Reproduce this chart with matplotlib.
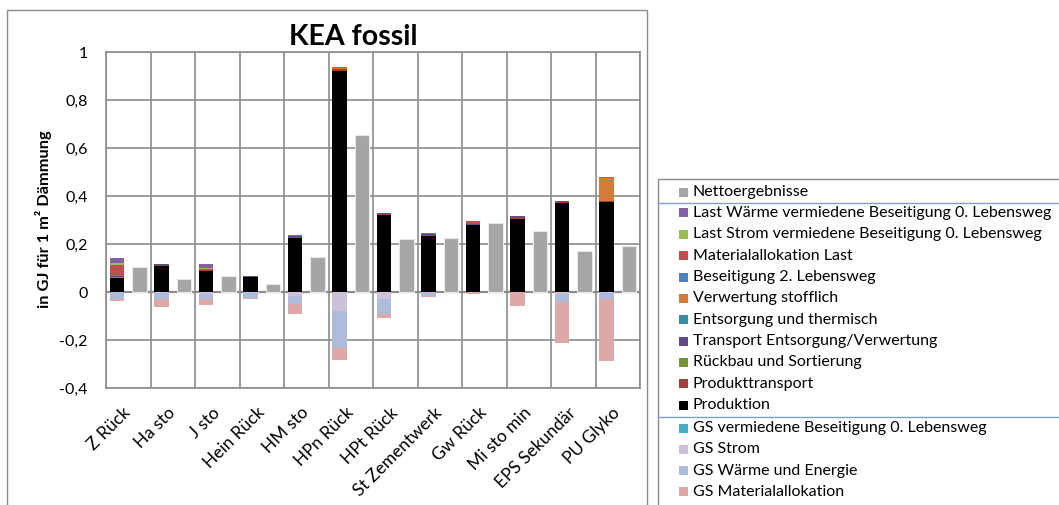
import numpy as np
import matplotlib
matplotlib.use('Agg')
import matplotlib.pyplot as plt
from matplotlib.patches import Rectangle
from matplotlib.lines import Line2D
from matplotlib.ticker import FuncFormatter

plt.rcParams['font.family'] = ['Lato', 'DejaVu Sans']

categories = ['Z Rück', 'Ha sto', 'J sto', 'Hein Rück', 'HM sto', 'HPn Rück',
              'HPt Rück', 'St Zementwerk', 'Gw Rück', 'Mi sto min', 'EPS Sekundär', 'PU Glyko']

# positive stack, bottom to top
produktion       = [0.058, 0.109, 0.086, 0.062, 0.226, 0.921, 0.319, 0.233, 0.280, 0.306, 0.371, 0.375]
produkttransport = [0.002, 0.003, 0.004, 0.002, 0.005, 0.006, 0.008, 0.005, 0.000, 0.005, 0.006, 0.003]
rueckbau         = [0.002, 0.000, 0.000, 0.000, 0.000, 0.000, 0.000, 0.000, 0.000, 0.000, 0.000, 0.000]
transport        = [0.003, 0.006, 0.000, 0.002, 0.003, 0.004, 0.004, 0.003, 0.005, 0.004, 0.004, 0.000]
entsorgung       = [0.004, 0.000, 0.000, 0.000, 0.000, 0.000, 0.000, 0.006, 0.000, 0.000, 0.000, 0.000]
verwertung       = [0.000, 0.000, 0.000, 0.000, 0.000, 0.004, 0.000, 0.000, 0.000, 0.000, 0.000, 0.097]
beseitigung      = [0.003, 0.000, 0.000, 0.000, 0.003, 0.004, 0.000, 0.000, 0.000, 0.000, 0.000, 0.003]
material_last    = [0.042, 0.000, 0.004, 0.000, 0.000, 0.000, 0.000, 0.000, 0.011, 0.000, 0.000, 0.000]
last_strom       = [0.008, 0.000, 0.008, 0.000, 0.000, 0.000, 0.000, 0.000, 0.000, 0.000, 0.000, 0.000]
last_waerme      = [0.018, 0.000, 0.015, 0.000, 0.000, 0.000, 0.000, 0.000, 0.000, 0.000, 0.000, 0.000]

# negative stack (credits), from zero downwards
gs_vermieden = [0.000, 0.000, 0.000, 0.000, 0.000, 0.000, 0.000, 0.000, 0.000, 0.000, 0.000, 0.000]
gs_strom     = [0.000, 0.006, 0.010, 0.003, 0.017, 0.079, 0.028, 0.000, 0.000, 0.002, 0.010, 0.004]
gs_waerme    = [0.030, 0.024, 0.021, 0.023, 0.032, 0.154, 0.062, 0.017, 0.002, 0.000, 0.032, 0.027]
gs_material  = [0.007, 0.032, 0.022, 0.005, 0.044, 0.052, 0.018, 0.004, 0.006, 0.058, 0.170, 0.258]

netto = [0.104, 0.054, 0.065, 0.035, 0.146, 0.653, 0.222, 0.226, 0.286, 0.254, 0.169, 0.190]

pos_series = [
    ('Produktion', produktion, '#000000'),
    ('Produkttransport', produkttransport, '#A0413D'),
    ('Rückbau und Sortierung', rueckbau, '#77933C'),
    ('Transport Entsorgung/Verwertung', transport, '#5F4A82'),
    ('Entsorgung und thermisch', entsorgung, '#3A8CA0'),
    ('Verwertung stofflich', verwertung, '#D27B3A'),
    ('Beseitigung 2. Lebensweg', beseitigung, '#4F81BD'),
    ('Materialallokation Last', material_last, '#C0504D'),
    ('Last Strom vermiedene Beseitigung 0. Lebensweg', last_strom, '#9BBB59'),
    ('Last Wärme vermiedene Beseitigung 0. Lebensweg', last_waerme, '#8064A2'),
]
neg_series = [
    ('GS vermiedene Beseitigung 0. Lebensweg', gs_vermieden, '#4BACC6'),
    ('GS Strom', gs_strom, '#CCC1DA'),
    ('GS Wärme und Energie', gs_waerme, '#ACBCDA'),
    ('GS Materialallokation', gs_material, '#DDA8A8'),
]
netto_color = '#A5A5A5'

W, H = 1059, 505
def fx(x):
    return x / W
def fy(y):
    return 1 - y / H

fig = plt.figure(figsize=(W / 100, H / 100), dpi=100)

# chart frame and legend frame
fig.patches.append(Rectangle((fx(7), fy(515)), fx(640), 505 / H, transform=fig.transFigure,
                             fill=False, edgecolor='#8C8C8C', lw=1))
fig.patches.append(Rectangle((fx(658), fy(515)), fx(420), 336 / H, transform=fig.transFigure,
                             fill=False, edgecolor='#8C8C8C', lw=1))

ax = fig.add_axes([fx(106), fy(388), fx(534), 336 / H])
x = np.arange(len(categories))
w = 0.33

bottom = np.zeros(len(categories))
for name, vals, col in pos_series:
    v = np.array(vals)
    ax.bar(x - 0.25, v, w, bottom=bottom, color=col, zorder=3)
    bottom += v
bottom = np.zeros(len(categories))
for name, vals, col in neg_series:
    v = -np.array(vals)
    ax.bar(x - 0.25, v, w, bottom=bottom, color=col, zorder=3)
    bottom += v
ax.bar(x + 0.25, netto, w, color=netto_color, edgecolor='#E8E8E8', lw=0.8, zorder=3)

ax.set_xlim(-0.5, len(categories) - 0.5)
ax.set_ylim(-0.4, 1.0)
ax.set_yticks(np.arange(-0.4, 1.01, 0.2))
ax.yaxis.set_major_formatter(FuncFormatter(lambda v, p: ('%g' % round(v, 1)).replace('.', ',')))
ax.set_xticks(x)
ax.set_xticklabels(categories, rotation=45, ha='right', rotation_mode='anchor', va='center', fontsize=12.5)
ax.set_xticks(np.arange(-0.5, len(categories), 1), minor=True)
ax.tick_params(axis='x', which='both', length=0, pad=16)
ax.tick_params(axis='y', length=0, pad=13, labelsize=11.5)
ax.grid(axis='y', color='#8C8C8C', lw=1.2, zorder=0)
ax.grid(axis='x', which='minor', color='#8C8C8C', lw=1.2, zorder=0)
ax.axhline(0, color='#8C8C8C', lw=1.6, zorder=2)
for s in ax.spines.values():
    s.set_color('#8C8C8C')
    s.set_linewidth(1.2)

fig.text(fx(353), fy(45), 'KEA fossil', ha='center', va='baseline', fontsize=20.5, fontweight='bold')
fig.text(fx(44), fy(219), 'in GJ für 1 m² Dämmung', ha='center', va='center', rotation=90,
         fontsize=11.8, fontweight='bold')

# legend, drawn by hand to keep the separator lines
legend_rows = [('Nettoergebnisse', netto_color)]
legend_rows += [(n, c) for n, v, c in reversed(pos_series)]
legend_rows += [(n, c) for n, v, c in neg_series]
row_y = [192] + [213 + 21.35 * i for i in range(10)] + [428 + 21.3 * i for i in range(4)]
for (name, col), yy in zip(legend_rows, row_y):
    fig.patches.append(Rectangle((fx(679), fy(yy + 4.5)), fx(9), 9 / H, transform=fig.transFigure,
                                 facecolor=col, edgecolor='none'))
    fig.text(fx(693), fy(yy), name, ha='left', va='center', fontsize=11.5)
for yy in [203, 417]:
    fig.lines.append(Line2D([fx(658), 1], [fy(yy), fy(yy)], transform=fig.transFigure,
                            color='#7F9FCF', lw=1))

fig.savefig('out.png', dpi=100)
